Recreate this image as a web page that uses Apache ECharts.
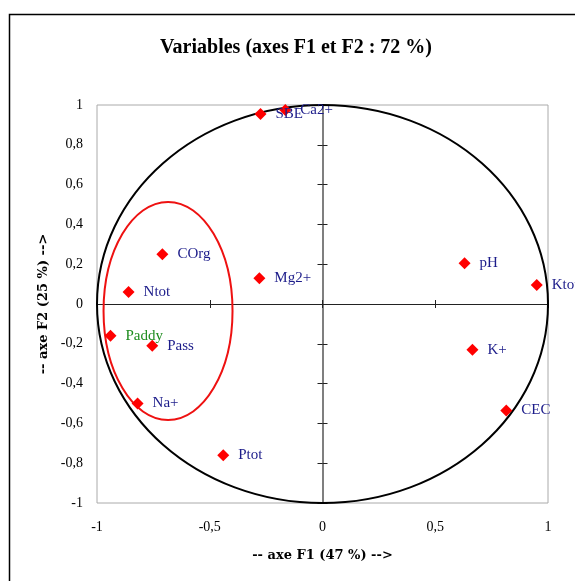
<!DOCTYPE html>
<html>
<head>
<meta charset="utf-8">
<script src="https://cdn.jsdelivr.net/npm/echarts@6/dist/echarts.min.js"></script>
<style>
  html, body { margin: 0; padding: 0; background: #fff; }
  #chart { width: 575px; height: 581px; }
</style>
</head>
<body>
<div id="chart"></div>
<script>
  // variables projected on F1 / F2
  var varNames = ['SBE', 'Ca2+', 'COrg', 'Mg2+', 'Ntot', 'Paddy', 'Pass', 'Na+', 'Ptot', 'pH', 'Ktot', 'K+', 'CEC'];
  var f1 = [-0.275, -0.165, -0.71, -0.28, -0.86, -0.94, -0.755, -0.82, -0.44, 0.63, 0.95, 0.665, 0.815];
  var f2 = [0.955, 0.975, 0.25, 0.13, 0.06, -0.16, -0.21, -0.50, -0.76, 0.205, 0.095, -0.23, -0.535];

  // shapes: [centre x, centre y, radius x, radius y]
  var corrCircle = [0, 0, 1, 1];
  var groupEllipse = [-0.685, -0.035, 0.286, 0.548];

  var serif = 'Liberation Serif';
  var labelBlue = '#1c1c8a';

  function fmt(v) {
    return String(Math.round(v * 10) / 10).replace('.', ',');
  }

  var points = varNames.map(function (n, i) {
    var item = { name: n, value: [f1[i], f2[i]] };
    if (n === 'Paddy') item.label = { color: '#1e8c1e' };
    return item;
  });

  function drawEllipse(params, api) {
    var c = api.coord([api.value(0), api.value(1)]);
    var e = api.coord([api.value(0) + api.value(2), api.value(1) + api.value(3)]);
    return {
      type: 'ellipse',
      shape: { cx: c[0], cy: c[1], rx: e[0] - c[0], ry: c[1] - e[1] },
      style: { fill: 'none', stroke: api.visual('color'), lineWidth: 2 }
    };
  }

  // zero axes: two copies each so the ticks cross the line
  function zeroX(pos, inside) {
    return {
      type: 'value', min: -1, max: 1, interval: 0.5, position: pos,
      axisLine: { show: true, onZero: true, lineStyle: { color: '#222', width: 1 } },
      axisTick: { show: true, inside: inside, length: 4, lineStyle: { color: '#222' } },
      splitLine: { show: false },
      axisLabel: { show: false }
    };
  }
  function zeroY(pos, inside) {
    return {
      type: 'value', min: -1, max: 1, interval: 0.2, position: pos,
      axisLine: { show: true, onZero: true, lineStyle: { color: '#777', width: 1.5 } },
      axisTick: { show: true, inside: inside, length: 5, lineStyle: { color: '#222' } },
      splitLine: { show: false },
      axisLabel: { show: false }
    };
  }

  var myChart = echarts.init(document.getElementById('chart'));
  var option = {
    backgroundColor: '#fff',
    animation: false,
    title: {
      text: 'Variables (axes F1 et F2 : 72 %)',
      left: 155,
      top: 33,
      textStyle: { fontFamily: serif, fontWeight: 'bold', fontSize: 20, color: '#000' }
    },
    graphic: [{
      type: 'rect',
      shape: { x: 9.5, y: 14.5, width: 640, height: 640 },
      style: { fill: 'none', stroke: '#000', lineWidth: 1.5 },
      silent: true
    }],
    grid: {
      left: 97, top: 105, width: 451, height: 398,
      show: true, borderColor: '#aaa', borderWidth: 1
    },
    xAxis: [{
      type: 'value', min: -1, max: 1, interval: 0.5, position: 'bottom',
      axisLine: { show: false, onZero: false },
      axisTick: { show: false },
      splitLine: { show: false },
      axisLabel: { formatter: fmt, margin: 17, color: '#000', fontFamily: serif, fontSize: 14 },
      name: '-- axe F1 (47 %) -->',
      nameLocation: 'middle',
      nameGap: 46,
      nameTextStyle: { fontFamily: 'DejaVu Serif', fontWeight: 'bold', fontSize: 13, color: '#000' }
    }, zeroX('top', true), zeroX('top', false)],
    yAxis: [{
      type: 'value', min: -1, max: 1, interval: 0.2, position: 'left',
      axisLine: { show: false, onZero: false },
      axisTick: { show: false },
      splitLine: { show: false },
      axisLabel: { formatter: fmt, margin: 14, color: '#000', fontFamily: serif, fontSize: 14 },
      name: '-- axe F2 (25 %) -->',
      nameLocation: 'middle',
      nameRotate: 90,
      nameGap: 45,
      nameTextStyle: { fontFamily: 'DejaVu Serif', fontWeight: 'bold', fontSize: 13, color: '#000' }
    }, zeroY('right', true), zeroY('right', false)],
    series: [{
      type: 'custom',
      clip: false,
      z: 1,
      silent: true,
      itemStyle: { color: '#000' },
      renderItem: drawEllipse,
      data: [corrCircle]
    }, {
      type: 'custom',
      clip: false,
      z: 1,
      silent: true,
      itemStyle: { color: '#ee1111' },
      renderItem: drawEllipse,
      data: [groupEllipse]
    }, {
      type: 'scatter',
      z: 3,
      symbol: 'diamond',
      symbolSize: [12, 12],
      itemStyle: { color: '#ff0000', opacity: 1 },
      label: {
        show: true,
        position: 'right',
        distance: 9,
        formatter: '{b}',
        color: labelBlue,
        fontFamily: serif,
        fontSize: 15
      },
      data: points
    }]
  };
  myChart.setOption(option);
</script>
</body>
</html>
